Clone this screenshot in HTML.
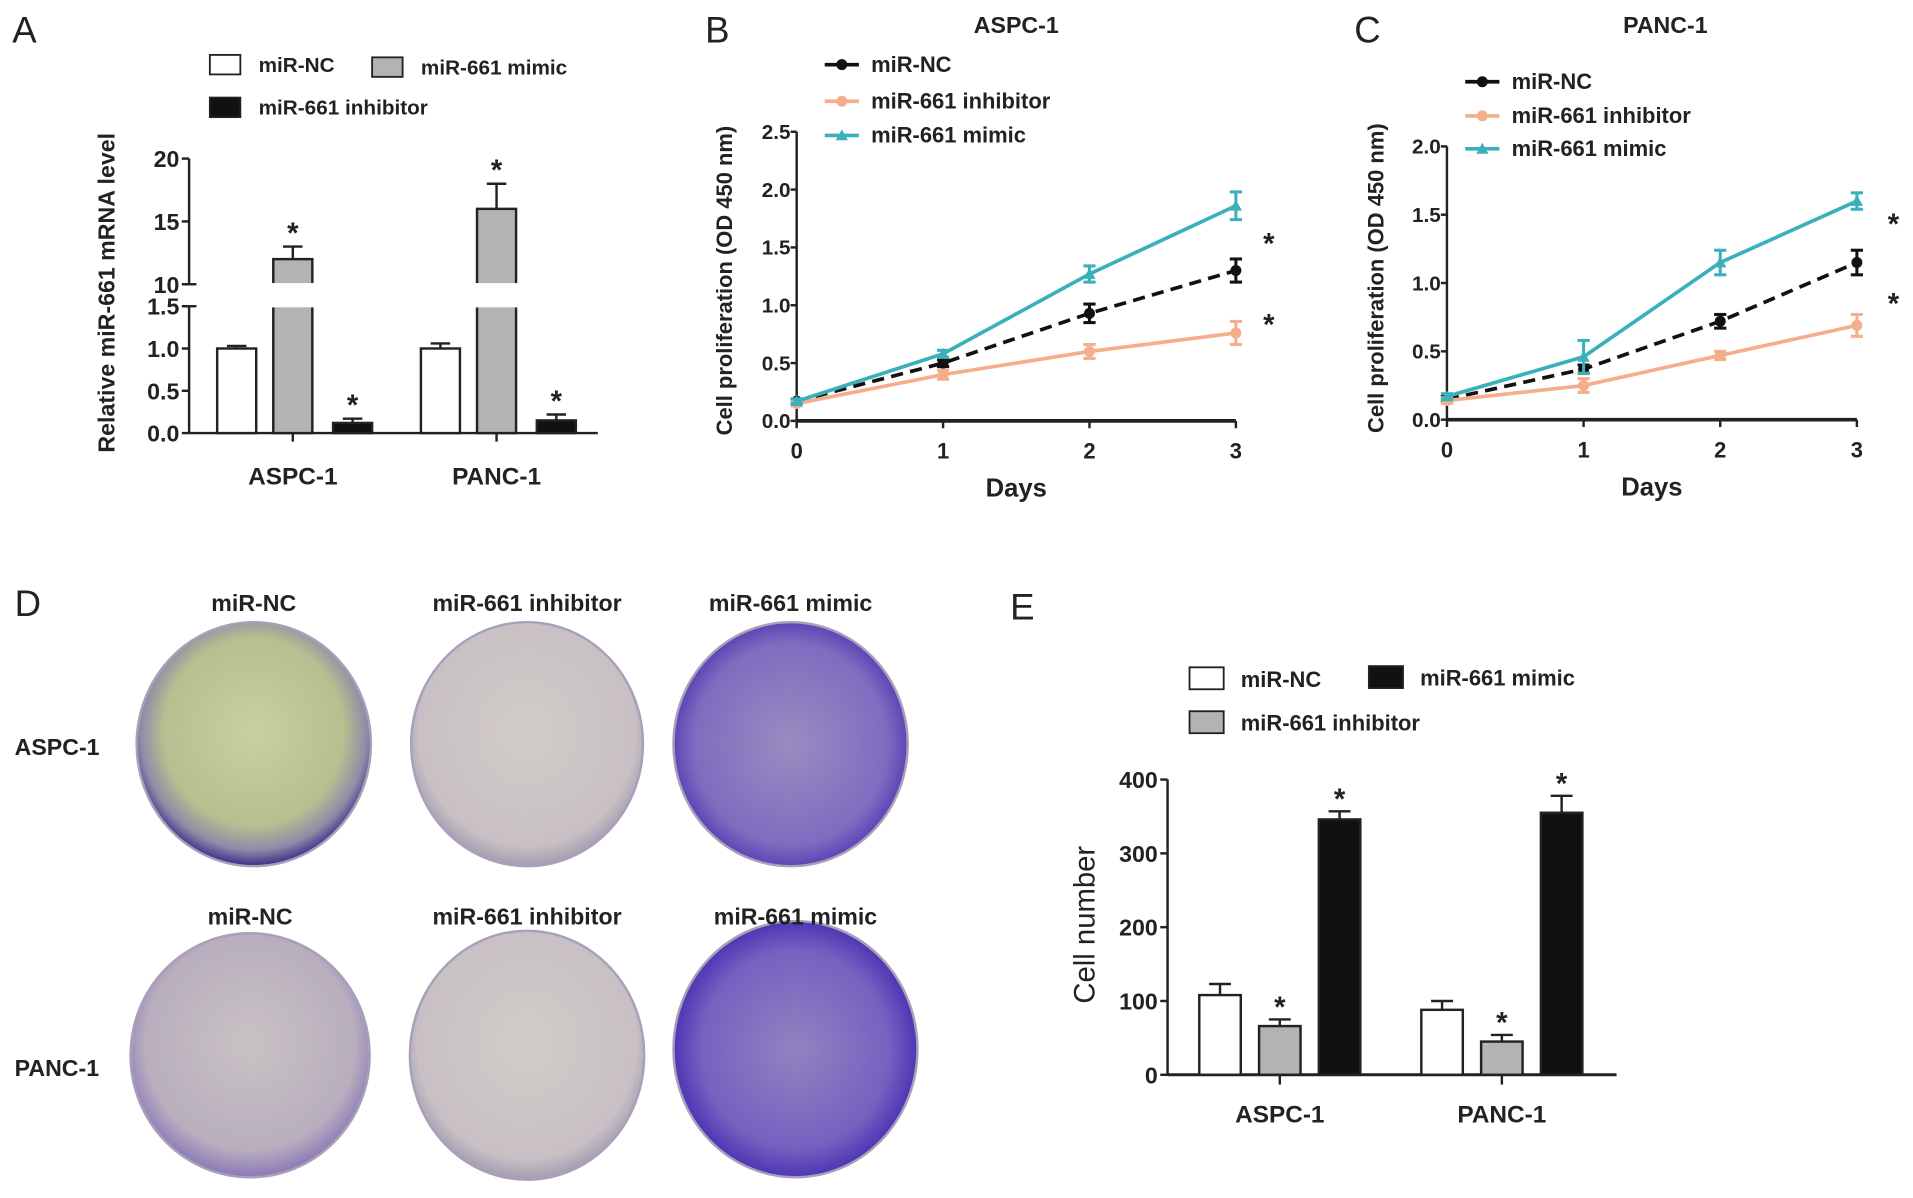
<!DOCTYPE html>
<html><head><meta charset="utf-8"><style>
html,body{margin:0;padding:0;background:#fff;}
svg{display:block;font-family:"Liberation Sans",Arial,sans-serif;}
text{font-weight:bold;fill:#222;}
text.normal{font-weight:normal;}
</style></head><body>
<svg id="fig" width="1913" height="1198" viewBox="0 0 1568 982" preserveAspectRatio="none" xmlns="http://www.w3.org/2000/svg">
<defs>
<radialGradient id="gNC1" cx="50%" cy="45%" r="55%"><stop offset="0" stop-color="#c8cfa0"/><stop offset="0.7" stop-color="#b7bf90"/><stop offset="0.88" stop-color="#8f8aa8"/><stop offset="1" stop-color="#3a2e8a"/></radialGradient>
<radialGradient id="gInh" cx="50%" cy="45%" r="55%"><stop offset="0" stop-color="#d2ccc8"/><stop offset="0.85" stop-color="#c8c0c4"/><stop offset="1" stop-color="#a49cb0"/></radialGradient>
<radialGradient id="gMim" cx="50%" cy="50%" r="55%"><stop offset="0" stop-color="#9a8cc0"/><stop offset="0.75" stop-color="#7f6cc0"/><stop offset="1" stop-color="#4a2eb0"/></radialGradient>
<radialGradient id="gNC2" cx="50%" cy="45%" r="55%"><stop offset="0" stop-color="#c9c2c3"/><stop offset="0.8" stop-color="#b8aebe"/><stop offset="1" stop-color="#8a78b8"/></radialGradient>
<radialGradient id="gMim2" cx="50%" cy="50%" r="55%"><stop offset="0" stop-color="#9282c0"/><stop offset="0.7" stop-color="#7462c0"/><stop offset="1" stop-color="#3e22b0"/></radialGradient>
</defs>
<g id="root"></g>
</svg>
<script>
// ---------- Panel A data ----------
const aCats = ['ASPC-1','PANC-1'];
const aNC = [1.0, 1.0];
const aNCerr = [0.03, 0.06];
const aMimic = [12, 16];
const aMimicErr = [1, 2];
const aInhib = [0.12, 0.15];
const aInhibErr = [0.05, 0.07];
const aLowTicks = ['0.0','0.5','1.0','1.5'];
const aHighTicks = ['10','15','20'];
// ---------- Panel B data ----------
const days = [0,1,2,3];
const bNC = [0.17,0.5,0.93,1.3];
const bNCerr = [0.02,0.03,0.08,0.1];
const bInh = [0.15,0.4,0.6,0.76];
const bInhErr = [0.02,0.04,0.06,0.1];
const bMim = [0.17,0.58,1.27,1.86];
const bMimErr = [0.02,0.03,0.07,0.12];
const bTicks = ['0.0','0.5','1.0','1.5','2.0','2.5'];
// ---------- Panel C data ----------
const cNC = [0.15,0.37,0.72,1.15];
const cNCerr = [0.02,0.03,0.05,0.09];
const cInh = [0.14,0.25,0.47,0.69];
const cInhErr = [0.02,0.05,0.03,0.08];
const cMim = [0.17,0.46,1.15,1.6];
const cMimErr = [0.02,0.12,0.09,0.06];
const cTicks = ['0.0','0.5','1.0','1.5','2.0'];
// ---------- Panel E data ----------
const eCats = ['ASPC-1','PANC-1'];
const eNC = [108, 88];
const eNCerr = [15, 12];
const eInh = [66, 45];
const eInhErr = [9, 9];
const eMim = [346, 355];
const eMimErr = [11, 23];
const eTicks = ['0','100','200','300','400'];

const NS='http://www.w3.org/2000/svg';
const root=document.getElementById('root');
function mk(tag,attrs,parent,txt){const e=document.createElementNS(NS,tag);for(const k in attrs)e.setAttribute(k,attrs[k]);if(txt!==undefined)e.textContent=txt;(parent||root).appendChild(e);return e;}
function line(x1,y1,x2,y2,st,w,p,dash){const l=mk('line',{x1,y1,x2,y2,stroke:st||'#222','stroke-width':w||2},p);if(dash)l.setAttribute('stroke-dasharray',dash);return l;}
function txt(x,y,s,size,anchor,p,extra){const t=mk('text',Object.assign({x,y,'font-size':size,'text-anchor':anchor||'middle'},extra||{}),p,s);return t;}

// ===== Panel A =====
const gA=mk('g',{});


txt(10,35,'A',30,'start',gA,{'class':'normal'});
const aX0=155, aLow0=355, aLowPer=(355-251)/1.5, aHigh10=233, aHighPer=(233-130)/10;
function aY(v){return v<=1.5? aLow0-v*aLowPer : aHigh10-(v-10)*aHighPer;}
line(aX0,130,aX0,233,'#222',2,gA);line(aX0,251,aX0,355,'#222',2,gA);
line(aX0-4,233,aX0+6,233,'#222',2,gA);line(aX0-4,251,aX0+6,251,'#222',2,gA);
line(aX0,355,490,355,'#222',2,gA);
aLowTicks.forEach((t,i)=>{const v=i*0.5,y=aY(v);line(aX0-6,y,aX0,y,'#222',2,gA);txt(aX0-8,y+7,t,19,'end',gA);});
aHighTicks.forEach((t,i)=>{const v=10+i*5,y=aY(v);line(aX0-6,y,aX0,y,'#222',2,gA);txt(aX0-8,y+7,t,19,'end',gA);});
txt(0,0,'Relative miR-661 mRNA level',19,'middle',gA,{transform:'translate(94,240) rotate(-90)'});
const aGroupStart=[178,345], bw=32, aStep=[0,46,95];
aCats.forEach((c,ci)=>{
  const gx=aGroupStart[ci];
  let y=aY(aNC[ci]);
  let r=mk('rect',{x:gx,y,width:bw,height:aLow0-y,fill:'#fff',stroke:'#222','stroke-width':2},gA);
  
  let ey=aY(aNC[ci]+aNCerr[ci]);line(gx+bw/2,y,gx+bw/2,ey,'#222',2,gA);line(gx+bw/2-8,ey,gx+bw/2+8,ey,'#222',2,gA);
  const mx=gx+aStep[1]; const my=aY(aMimic[ci]);
  r=mk('rect',{x:mx,y:251,width:bw,height:aLow0-251,fill:'#b3b3b3',stroke:'#222','stroke-width':2},gA);
  
  r=mk('rect',{x:mx,y:my,width:bw,height:233-my,fill:'#b3b3b3',stroke:'#222','stroke-width':2},gA);
  
  mk('rect',{x:mx-2,y:232,width:bw+4,height:20,fill:'#fff'},gA);
  ey=aY(aMimic[ci]+aMimicErr[ci]);line(mx+bw/2,my,mx+bw/2,ey,'#222',2,gA);line(mx+bw/2-8,ey,mx+bw/2+8,ey,'#222',2,gA);
  txt(mx+bw/2,ey-3,'*',24,'middle',gA);
  const ix=gx+aStep[2]; y=aY(aInhib[ci]);
  r=mk('rect',{x:ix,y,width:bw,height:aLow0-y,fill:'#111',stroke:'#222','stroke-width':2},gA);
  
  ey=aY(aInhib[ci]+aInhibErr[ci]);line(ix+bw/2,y,ix+bw/2,ey,'#222',2,gA);line(ix+bw/2-8,ey,ix+bw/2+8,ey,'#222',2,gA);
  txt(ix+bw/2,ey-3,'*',24,'middle',gA);
  line(gx+aStep[1]+bw/2,355,gx+aStep[1]+bw/2,362,'#222',2,gA);
  txt(gx+aStep[1]+bw/2,397,c,20,'middle',gA);
});
function legBox(x,y,fill,label,p){mk('rect',{x,y:y-8,width:25,height:16,fill,stroke:'#222','stroke-width':1.5},p);txt(x+40,y+6,label,17,'start',p);}
legBox(172,53,'#fff','miR-NC',gA);legBox(305,55,'#b3b3b3','miR-661 mimic',gA);legBox(172,88,'#111','miR-661 inhibitor',gA);

// ===== Line charts =====
function lineChart(opt){
  const g=mk('g',{});
  
  
  txt(opt.labX,35,opt.letter,30,'start',g,{'class':'normal'});
  txt(opt.titleX,27,opt.title,19,'middle',g);
  const X=d=>opt.x0+(opt.x3-opt.x0)*d/3;
  const Y=v=>opt.y0-(opt.y0-opt.yTop)*v/opt.yMax;
  line(opt.x0,opt.yTop,opt.x0,opt.y0,'#222',2,g);
  line(opt.x0,opt.y0,opt.x3,opt.y0,'#222',3,g);
  opt.ticks.forEach((t,i)=>{const y=Y(i*0.5);line(opt.x0-5,y,opt.x0,y,'#222',2,g);txt(opt.x0-5,y+6,t,17,'end',g);});
  days.forEach(d=>{line(X(d),opt.y0,X(d),opt.y0+6,'#222',2,g);txt(X(d),opt.y0+31,String(d),18,'middle',g);});
  txt((opt.x0+opt.x3)/2,opt.y0+62,'Days',21,'middle',g);
  txt(0,0,'Cell proliferation (OD 450 nm)',18,'middle',g,{transform:`translate(${opt.ytX},${opt.ytY}) rotate(-90)`});
  opt.series.forEach(s=>{
    const pts=days.map(d=>X(d)+','+Y(s.vals[d])).join(' ');
    const pl=mk('polyline',{points:pts,fill:'none',stroke:s.color,'stroke-width':3},g);
    if(s.dash)pl.setAttribute('stroke-dasharray','10,6');
    
    days.forEach(d=>{const x=X(d),y1=Y(s.vals[d]+s.err[d]),y2=Y(s.vals[d]-s.err[d]);
      line(x,y1,x,y2,s.color,2.5,g);line(x-5,y1,x+5,y1,s.color,2.5,g);line(x-5,y2,x+5,y2,s.color,2.5,g);
      const y=Y(s.vals[d]);
      const m=s.tri?mk('polygon',{points:`${x-5},${y+4} ${x+5},${y+4} ${x},${y-5}`,fill:s.color},g):mk('circle',{cx:x,cy:y,r:4.5,fill:s.color},g);
      });
  });
  opt.series.forEach((s,i)=>{const y=opt.legY[i];line(opt.legX-14,y,opt.legX+14,y,s.color,3,g);
    if(s.tri)mk('polygon',{points:`${opt.legX-5},${y+4} ${opt.legX+5},${y+4} ${opt.legX},${y-5}`,fill:s.color},g);else mk('circle',{cx:opt.legX,cy:y,r:4.5,fill:s.color},g);
    txt(opt.legX+24,y+6,s.label,18,'start',g);});
  opt.stars.forEach(sy=>txt(opt.starX,sy+12,'*',24,'middle',g));
}
const cols={nc:'#111',inh:'#f5ae8c',mim:'#3ab0bb'};
lineChart({name:'panel-b-line-chart',letter:'B',labX:578,title:'ASPC-1',titleX:833,x0:653,x3:1013,y0:345,yTop:108,yMax:2.5,ticks:bTicks,ytX:600,ytY:230,
  legX:690,legY:[53,83,111],starX:1040,stars:[196,262],
  series:[{key:'nc',label:'miR-NC',vals:bNC,err:bNCerr,color:cols.nc,dash:true},{key:'inhibitor',label:'miR-661 inhibitor',vals:bInh,err:bInhErr,color:cols.inh},{key:'mimic',label:'miR-661 mimic',vals:bMim,err:bMimErr,color:cols.mim,tri:true}]});
lineChart({name:'panel-c-line-chart',letter:'C',labX:1110,title:'PANC-1',titleX:1365,x0:1186,x3:1522,y0:344,yTop:120,yMax:2.0,ticks:cTicks,ytX:1134,ytY:228,
  legX:1215,legY:[67,95,122],starX:1552,stars:[180,245],
  series:[{key:'nc',label:'miR-NC',vals:cNC,err:cNCerr,color:cols.nc,dash:true},{key:'inhibitor',label:'miR-661 inhibitor',vals:cInh,err:cInhErr,color:cols.inh},{key:'mimic',label:'miR-661 mimic',vals:cMim,err:cMimErr,color:cols.mim,tri:true}]});

// ===== Panel D (plates) =====
const gD=mk('g',{});


txt(12,505,'D',30,'start',gD,{'class':'normal'});
const plates=[[208,610,96,100,'gNC1','miR-NC'],[432,610,95,100,'gInh','miR-661 inhibitor'],[648,610,96,100,'gMim','miR-661 mimic'],
  [205,865,98,100,'gNC2','miR-NC'],[432,865,96,102,'gInh','miR-661 inhibitor'],[652,860,100,105,'gMim2','miR-661 mimic']];
plates.forEach((p,i)=>{const e=mk('ellipse',{cx:p[0],cy:p[1],rx:p[2],ry:p[3],fill:`url(#${p[4]})`,stroke:'#a8a0b8','stroke-width':2},gD);
  
  txt(p[0],i<3?501:758,p[5],19,'middle',gD);});
txt(12,619,'ASPC-1',19,'start',gD);txt(12,882,'PANC-1',19,'start',gD);

// ===== Panel E =====
const gE=mk('g',{});


txt(828,508,'E',30,'start',gE,{'class':'normal'});
const eX0=957,eY0=881,eTop=639;
const eY=v=>eY0-(eY0-eTop)*v/400;
line(eX0,eTop,eX0,eY0,'#222',2,gE);line(eX0,eY0,1325,eY0,'#222',2.5,gE);
eTicks.forEach((t,i)=>{const y=eY(i*100);line(eX0-6,y,eX0,y,'#222',2,gE);txt(eX0-8,y+7,t,19,'end',gE);});
txt(0,0,'Cell number',24,'middle',gE,{transform:'translate(897,758) rotate(-90)','class':'normal'});
const eStart=[983,1165],ebw=34,eOff=[0,49,98];
eCats.forEach((c,ci)=>{
  [[eNC,eNCerr,'#fff',false,'nc'],[eInh,eInhErr,'#b3b3b3',true,'inhibitor'],[eMim,eMimErr,'#111',true,'mimic']].forEach((s,si)=>{
    const x=eStart[ci]+eOff[si],y=eY(s[0][ci]);
    const r=mk('rect',{x,y,width:ebw,height:eY0-y,fill:s[2],stroke:'#222','stroke-width':2},gE);
    
    const ey=eY(s[0][ci]+s[1][ci]);line(x+ebw/2,y,x+ebw/2,ey,'#222',2,gE);line(x+ebw/2-9,ey,x+ebw/2+9,ey,'#222',2,gE);
    if(s[3])txt(x+ebw/2,ey-2,'*',24,'middle',gE);
  });
  const cx=eStart[ci]+eOff[1]+ebw/2;line(cx,eY0,cx,eY0+8,'#222',2,gE);
  txt(cx,920,c,20,'middle',gE);
});
function legBoxE(x,y,fill,label){mk('rect',{x,y:y-9,width:28,height:18,fill,stroke:'#222','stroke-width':1.5},gE);txt(x+42,y+7,label,18,'start',gE);}
legBoxE(975,556,'#fff','miR-NC');legBoxE(1122,555,'#111','miR-661 mimic');legBoxE(975,592,'#b3b3b3','miR-661 inhibitor');
</script>
</body></html>
